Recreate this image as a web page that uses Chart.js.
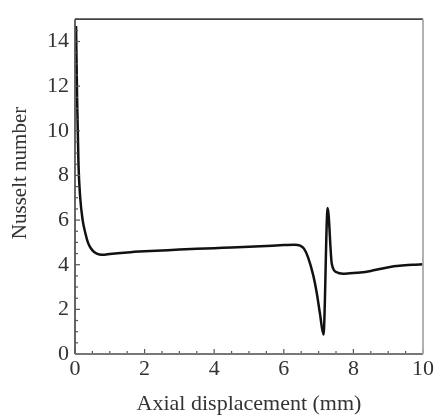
<!DOCTYPE html>
<html>
<head>
<meta charset="utf-8">
<script src="https://cdn.jsdelivr.net/npm/chart.js@4/dist/chart.umd.min.js"></script>
<style>
  html, body { margin: 0; padding: 0; background: #fff; }
  #wrap { width: 437px; height: 417px; }
</style>
</head>
<body>
<div id="wrap"><canvas id="nusseltChart"></canvas></div>
<script>
// Axial displacement (mm) and Nusselt number
const displacement = [0.03, 0.06, 0.1, 0.15, 0.22, 0.3, 0.37, 0.45, 0.55, 0.7, 0.85, 1.0, 1.5, 2.0, 2.5, 3.0, 3.5, 4.0, 4.5, 5.0, 5.5, 6.0, 6.3, 6.47, 6.58, 6.7, 6.85, 6.94, 7.04, 7.14, 7.26, 7.38, 7.52, 7.7, 7.9, 8.2, 8.5, 8.8, 9.05, 9.4, 9.7, 10.0];
const nusselt = [14.7, 11.5, 8.5, 7.0, 6.0, 5.4, 5.0, 4.75, 4.57, 4.46, 4.45, 4.48, 4.55, 4.6, 4.64, 4.68, 4.71, 4.74, 4.77, 4.8, 4.84, 4.88, 4.9, 4.86, 4.72, 4.32, 3.5, 2.8, 1.8, 0.87, 6.54, 4.03, 3.66, 3.6, 3.62, 3.65, 3.72, 3.82, 3.9, 3.96, 4.0, 4.02];
const xTicks = [0, 2, 4, 6, 8, 10];
const yTicks = [0, 2, 4, 6, 8, 10, 12, 14];
const yTitle = "Nusselt number";

const serif = "'Liberation Serif', 'DejaVu Serif', serif";

// inward ticks, the box around the plot and the y title
const frameTicks = {
    id: "frameTicks",
    afterDatasetsDraw(chart) {
        const { ctx, chartArea: a, scales } = chart;
        const xs = scales.x, ys = scales.y;
        ctx.save();
        ctx.lineWidth = 1.2;
        ctx.strokeStyle = "#555";
        for (let v = 0; v <= 10.001; v += 0.5) {
            const px = xs.getPixelForValue(v);
            const len = (v % 2 === 0) ? 5 : 3;
            ctx.beginPath();
            ctx.moveTo(px, a.bottom);
            ctx.lineTo(px, a.bottom - len);
            ctx.stroke();
        }
        for (let v = 0; v <= 15.001; v += 0.5) {
            const py = ys.getPixelForValue(v);
            const len = (v % 2 === 0) ? 5 : 3;
            ctx.beginPath();
            ctx.moveTo(a.left, py);
            ctx.lineTo(a.left + len, py);
            ctx.stroke();
        }
        ctx.lineWidth = 1.8;
        ctx.strokeStyle = "#444";
        ctx.beginPath(); ctx.moveTo(a.left, a.top); ctx.lineTo(a.right, a.top); ctx.stroke();
        ctx.strokeStyle = "#555";
        ctx.beginPath(); ctx.moveTo(a.left, a.top); ctx.lineTo(a.left, a.bottom); ctx.stroke();
        ctx.strokeStyle = "#777";
        ctx.beginPath(); ctx.moveTo(a.left, a.bottom); ctx.lineTo(a.right, a.bottom); ctx.stroke();
        ctx.strokeStyle = "#aaa";
        ctx.beginPath(); ctx.moveTo(a.right, a.top); ctx.lineTo(a.right, a.bottom); ctx.stroke();

        // y title sits a little above the middle in the original
        ctx.translate(20, 173);
        ctx.rotate(-Math.PI / 2);
        ctx.fillStyle = "#333";
        ctx.font = "21px " + serif;
        ctx.textAlign = "center";
        ctx.textBaseline = "middle";
        ctx.fillText(yTitle, 0, 0);
        ctx.restore();
    }
};

const ctx = document.getElementById("nusseltChart").getContext("2d");
new Chart(ctx, {
    type: "scatter",
    data: {
        datasets: [{
            data: displacement.map((x, i) => ({ x: x, y: nusselt[i] })),
            showLine: true,
            borderColor: "#111",
            borderWidth: 2.5,
            pointRadius: 0,
            cubicInterpolationMode: "monotone",
            fill: false
        }]
    },
    options: {
        responsive: true,
        maintainAspectRatio: false,
        animation: false,
        layout: { padding: { top: 10, right: 14, left: 0, bottom: 0 } },
        plugins: { legend: { display: false }, tooltip: { enabled: false } },
        scales: {
            x: {
                type: "linear",
                min: 0, max: 10,
                afterFit: s => { s.height = 63; },
                afterBuildTicks: s => { s.ticks = xTicks.map(v => ({ value: v })); },
                grid: { display: false, drawTicks: false },
                border: { display: false },
                ticks: { color: "#333", padding: 2, maxRotation: 0, font: { family: serif, size: 22 } },
                title: {
                    display: true,
                    text: "Axial displacement (mm)",
                    color: "#333",
                    font: { family: serif, size: 22 },
                    padding: { top: 0, bottom: 0 }
                }
            },
            y: {
                type: "linear",
                min: 0, max: 15,
                afterFit: s => { s.width = 75; },
                afterBuildTicks: s => { s.ticks = yTicks.map(v => ({ value: v })); },
                grid: { display: false, drawTicks: false },
                border: { display: false },
                ticks: { color: "#333", padding: 6, font: { family: serif, size: 22 } }
            }
        }
    },
    plugins: [frameTicks]
});
</script>
</body>
</html>
